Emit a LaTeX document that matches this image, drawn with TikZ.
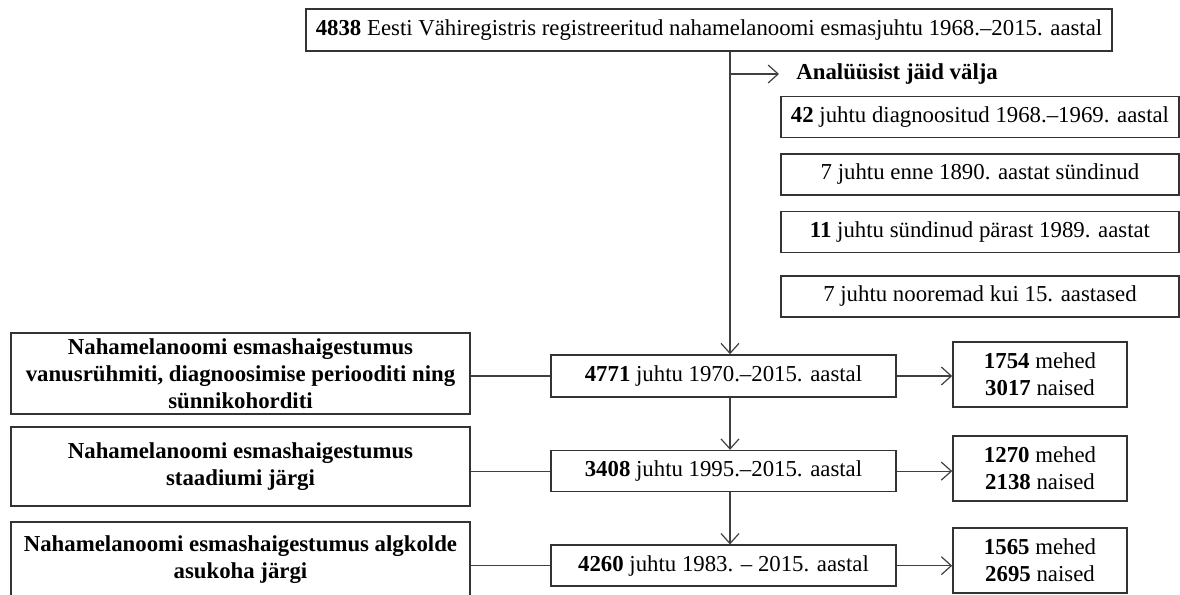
\documentclass[tikz,border=0pt]{standalone}
\usepackage{fontspec}
\setmainfont{Liberation Serif}
\usetikzlibrary{chains,arrows.meta}
\newcommand{\chartfont}{\fontsize{11.4}{13.5}\selectfont}
\tikzstyle{box}=[draw=black!80,line width=0.8pt,inner sep=0pt,align=center,font=\chartfont]
\tikzstyle{midbox}=[box,minimum width=172.5pt,minimum height=20.5pt,on chain=mid]
\tikzstyle{outbox}=[box,minimum width=199pt,minimum height=20.5pt]
\tikzstyle{studybox}=[box,minimum width=229.5pt,font=\chartfont\bfseries]
\tikzstyle{sexbox}=[box,minimum width=87pt,minimum height=32.5pt]
\tikzstyle{link}=[draw=black!75,line width=0.6pt]
\tikzstyle{flow}=[link,-{Straight Barb[length=5pt,width=9pt]}]

\begin{document}
\begin{tikzpicture}[x=0.5pt,y=-0.5pt]
\useasboundingbox (0,0) rectangle (1180,595);

% registry total
\node [box,minimum width=403pt,minimum height=21pt] (top) at (709,30)
    {\textbf{4838} Eesti Vähiregistris registreeritud nahamelanoomi esmasjuhtu 1968.–2015. aastal};
\coordinate (split) at (730,74);
\node [font=\chartfont\bfseries,anchor=west,inner sep=0pt] (excluded) at (796,74) {Analüüsist jäid välja};

% excluded cases
\node [outbox] (ex1) at (980,117)   {\textbf{42} juhtu diagnoositud 1968.–1969. aastal};
\node [outbox] (ex2) at (980,174.5) {7 juhtu enne 1890. aastat sündinud};
\node [outbox] (ex3) at (980,232)   {\textbf{11} juhtu sündinud pärast 1989. aastat};
\node [outbox] (ex4) at (980,296.5) {7 juhtu nooremad kui 15. aastased};

% study samples
\begin{scope}[start chain=mid going below, node distance=26pt]
    \node [midbox,minimum height=21pt] (m1) at (723.5,376) {\textbf{4771} juhtu 1970.–2015. aastal};
    \node [midbox] (m2) {\textbf{3408} juhtu 1995.–2015. aastal};
    \node [midbox] (m3) {\textbf{4260} juhtu 1983. – 2015. aastal};
\end{scope}

% analyses
\node [studybox,minimum height=40.5pt] (l1) at (240.5,373.5)
    {Nahamelanoomi esmashaigestumus\\vanusrühmiti, diagnoosimise periooditi ning\\sünnikohorditi};
\node [studybox,minimum height=39.5pt] (l2) at (240.5,466.5)
    {Nahamelanoomi esmashaigestumus\\staadiumi järgi};
\node [studybox,minimum height=37.5pt] (l3) at (240.5,559.5)
    {Nahamelanoomi esmashaigestumus algkolde\\asukoha järgi};

% by sex
\node [sexbox] (r1) at (1040,374.5) {\textbf{1754} mehed\\\textbf{3017} naised};
\node [sexbox] (r2) at (1040,468.5) {\textbf{1270} mehed\\\textbf{2138} naised};
\node [sexbox] (r3) at (1040,560.5) {\textbf{1565} mehed\\\textbf{2695} naised};

% connectors
\draw [flow] (top.south -| split) -- (m1.north -| split);
\draw [flow] (split) -- ([xshift=-8.5pt]excluded.west);
\draw [flow] (m1.south -| split) -- (m2.north -| split);
\draw [flow] (m2.south -| split) -- (m3.north -| split);
\draw [link] (m1.west) -- (m1.west -| l1.east);
\draw [link] (m2.west) -- (m2.west -| l2.east);
\draw [link] (m3.west) -- (m3.west -| l3.east);
\draw [flow] (m1.east) -- (m1.east -| r1.west);
\draw [flow] (m2.east) -- (m2.east -| r2.west);
\draw [flow] (m3.east) -- (m3.east -| r3.west);
\end{tikzpicture}
\end{document}
